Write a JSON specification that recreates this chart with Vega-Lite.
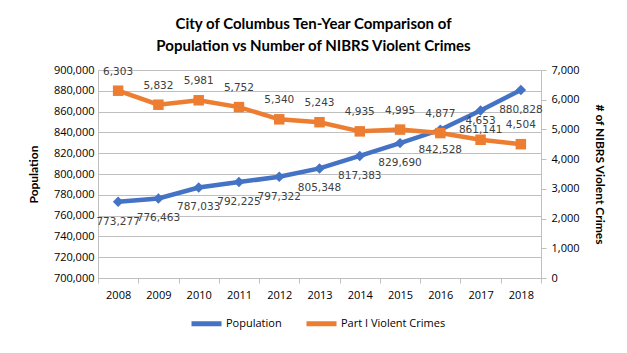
{
  "$schema": "https://vega.github.io/schema/vega-lite/v6.json",
  "width": 443,
  "height": 208,
  "autosize": {"type": "none"},
  "padding": {"left": 98, "top": 70, "right": 86, "bottom": 75},
  "background": "white",
  "title": {
    "text": ["City of Columbus Ten-Year Comparison of", "Population vs Number of NIBRS Violent Crimes"],
    "font": "Lato",
    "fontSize": 15,
    "fontWeight": "bold",
    "color": "#000000",
    "anchor": "middle",
    "offset": 10,
    "lineHeight": 22,
    "dx": -6
  },
  "data": {
    "values": [
      {"year": "2008", "population": 773277, "crimes": 6303},
      {"year": "2009", "population": 776463, "crimes": 5832},
      {"year": "2010", "population": 787033, "crimes": 5981},
      {"year": "2011", "population": 792225, "crimes": 5752},
      {"year": "2012", "population": 797322, "crimes": 5340},
      {"year": "2013", "population": 805348, "crimes": 5243},
      {"year": "2014", "population": 817383, "crimes": 4935},
      {"year": "2015", "population": 829690, "crimes": 4995},
      {"year": "2016", "population": 842528, "crimes": 4877},
      {"year": "2017", "population": 861141, "crimes": 4653},
      {"year": "2018", "population": 880828, "crimes": 4504}
    ]
  },
  "encoding": {
    "x": {
      "field": "year",
      "type": "ordinal",
      "scale": {"type": "band", "paddingInner": 0, "paddingOuter": 0},
      "axis": {
        "title": null,
        "labelAngle": 0,
        "tickBand": "extent",
        "domainColor": "#BFBFBF",
        "tickColor": "#BFBFBF",
        "tickSize": 5,
        "labelPadding": 6,
        "labelFont": "Open Sans",
        "labelFontSize": 11,
        "labelColor": "#000000",
        "grid": false
      }
    }
  },
  "layer": [
    {
      "mark": {"type": "line", "strokeWidth": 4.5, "point": {"shape": "diamond", "filled": true, "size": 110, "opacity": 1}},
      "encoding": {
        "y": {
          "field": "population",
          "type": "quantitative",
          "scale": {"domain": [700000, 900000], "nice": false, "zero": false},
          "axis": {
            "orient": "left",
            "values": [700000, 720000, 740000, 760000, 780000, 800000, 820000, 840000, 860000, 880000, 900000],
            "format": ",d",
            "grid": true,
            "gridColor": "#BFBFBF",
            "ticks": false,
            "domain": true,
            "domainColor": "#BFBFBF",
            "labelPadding": 4,
            "labelFont": "Open Sans",
            "labelFontSize": 11,
            "labelColor": "#000000",
            "title": "Population",
            "titleFont": "Lato",
            "titleFontSize": 12,
            "titleFontWeight": "bold",
            "titleColor": "#000000",
            "titlePadding": 13
          }
        },
        "color": {"datum": "Population"}
      }
    },
    {
      "mark": {"type": "line", "strokeWidth": 4.5, "point": {"shape": "square", "filled": true, "size": 110, "opacity": 1}},
      "encoding": {
        "y": {
          "field": "crimes",
          "type": "quantitative",
          "scale": {"domain": [0, 7000], "nice": false},
          "axis": {
            "orient": "right",
            "values": [0, 1000, 2000, 3000, 4000, 5000, 6000, 7000],
            "format": ",d",
            "grid": false,
            "ticks": true,
            "tickSize": 5,
            "tickColor": "#BFBFBF",
            "domain": true,
            "domainColor": "#BFBFBF",
            "labelPadding": 5,
            "labelFont": "Open Sans",
            "labelFontSize": 11,
            "labelColor": "#000000",
            "title": "# of NIBRS Violent Crimes",
            "titleFont": "Lato",
            "titleFontSize": 12,
            "titleFontWeight": "bold",
            "titleColor": "#000000",
            "titlePadding": 13
          }
        },
        "color": {"datum": "Part I Violent Crimes"}
      }
    },
    {
      "mark": {"type": "text", "dy": 20, "font": "DejaVu Sans", "fontSize": 10.5, "color": "#404040"},
      "encoding": {
        "y": {"field": "population", "type": "quantitative", "scale": {"domain": [700000, 900000], "nice": false, "zero": false}, "axis": null},
        "text": {"field": "population", "type": "quantitative", "format": ",d"}
      }
    },
    {
      "mark": {"type": "text", "dy": -19, "font": "DejaVu Sans", "fontSize": 10.5, "color": "#404040"},
      "encoding": {
        "y": {"field": "crimes", "type": "quantitative", "scale": {"domain": [0, 7000], "nice": false}, "axis": null},
        "text": {"field": "crimes", "type": "quantitative", "format": ",d"}
      }
    }
  ],
  "resolve": {"scale": {"y": "independent"}},
  "config": {
    "view": {"stroke": null},
    "range": {"category": ["#4472C4", "#ED7D31"]},
    "legend": {
      "orient": "none",
      "legendX": 91,
      "legendY": 236,
      "direction": "horizontal",
      "title": null,
      "symbolType": "stroke",
      "symbolStrokeWidth": 5,
      "symbolSize": 900,
      "labelOffset": 2,
      "labelFont": "Open Sans",
      "labelFontSize": 11,
      "labelColor": "#000000",
      "columnPadding": 14
    }
  }
}
